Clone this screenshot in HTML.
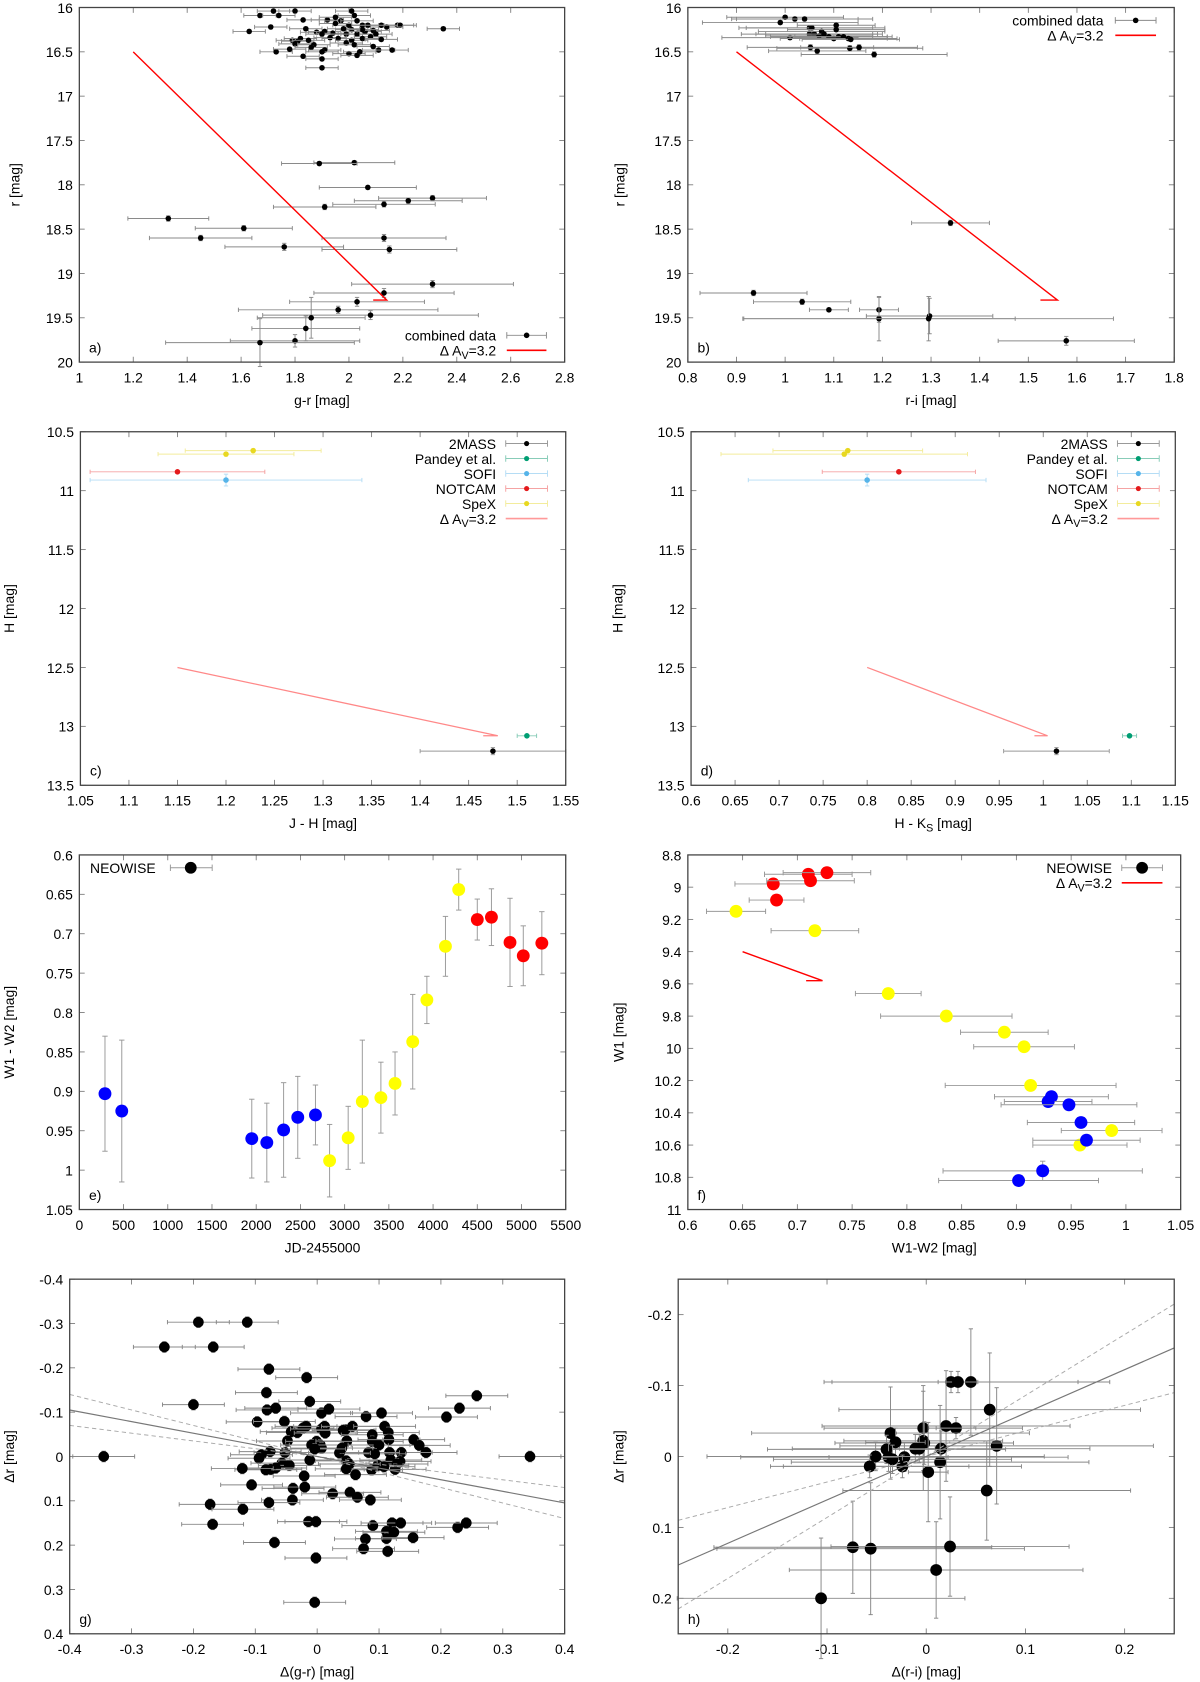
<!DOCTYPE html>
<html><head><meta charset="utf-8"><title>Photometric diagrams</title>
<style>
html,body{margin:0;padding:0;background:#fff;}
svg{display:block;font-family:"Liberation Sans",sans-serif;}
</style></head>
<body>
<svg id="fig" width="1200" height="1682" viewBox="0 0 1120 1570" xmlns="http://www.w3.org/2000/svg"></svg>
<script>
// ---------- DATA ----------
const aTopX=[1.72,1.80,1.67,1.74,2.01,2.02,1.71,1.63,2.35,2.18,2.19,2.14,2.12,1.83,1.92,1.95,1.97,2.03,2.07,2.05,1.84,1.88,1.91,1.94,1.99,2.0,2.01,2.03,2.06,2.09,2.1,2.08,1.79,1.81,1.82,1.85,1.90,1.93,1.96,2.01,2.05,1.80,1.87,1.99,2.02,2.09,2.11,2.16,1.73,1.78,1.86,1.91,1.9,2.0,2.04,2.03,1.83,1.9,1.9,2.05,1.98,2.12,1.95];
const aTopY=[16.04,16.04,16.09,16.09,16.04,16.09,16.22,16.27,16.24,16.2,16.2,16.22,16.2,16.14,16.14,16.11,16.15,16.15,16.2,16.2,16.24,16.28,16.27,16.29,16.3,16.2,16.25,16.3,16.27,16.26,16.3,16.33,16.37,16.38,16.35,16.37,16.3,16.34,16.35,16.37,16.35,16.41,16.42,16.4,16.42,16.44,16.48,16.48,16.5,16.47,16.45,16.48,16.5,16.52,16.5,16.54,16.55,16.58,16.68,16.25,16.24,16.36,16.18];
const aTopXerr=0.06, aTopYerr=0.02;
const aLowX=[2.02,1.89,2.07,2.31,2.22,2.13,1.91,1.33,1.61,1.45,2.13,1.76,2.15,2.31,2.13,2.03,1.96,2.08,1.86,1.84,1.80,1.67];
const aLowY=[17.75,17.76,18.03,18.15,18.18,18.22,18.25,18.38,18.49,18.6,18.6,18.7,18.73,19.12,19.22,19.32,19.41,19.47,19.5,19.62,19.76,19.78];
const aLowXe=[0.15,0.14,0.18,0.2,0.2,0.19,0.19,0.15,0.18,0.19,0.23,0.22,0.25,0.3,0.26,0.25,0.37,0.4,0.2,0.2,0.24,0.35];
const aLowYe=[0.02,0.02,0.02,0.03,0.03,0.03,0.03,0.03,0.03,0.03,0.04,0.04,0.04,0.04,0.05,0.05,0.04,0.05,0.23,0.14,0.07,0.27];
const aVec=[[1.2,16.5],[2.14,19.3],[2.09,19.3]];
const bX=[0.99,1.0,1.02,1.04,1.05,1.055,1.05,1.01,1.06,1.07,1.075,1.08,1.09,1.10,1.105,1.105,1.11,1.12,1.13,1.135,1.052,1.066,1.133,1.152,1.183,1.34,0.935,1.035,1.09,1.193,1.193,1.297,1.295,1.578];
const bY=[16.17,16.11,16.13,16.13,16.23,16.23,16.3,16.34,16.3,16.32,16.27,16.3,16.33,16.35,16.2,16.25,16.33,16.33,16.35,16.36,16.45,16.49,16.46,16.45,16.53,18.43,19.22,19.32,19.41,19.41,19.51,19.48,19.51,19.76];
const bXe=[0.16,0.12,0.13,0.14,0.13,0.15,0.14,0.14,0.12,0.11,0.13,0.12,0.12,0.11,0.08,0.1,0.1,0.1,0.1,0.1,0.13,0.1,0.15,0.12,0.15,0.08,0.11,0.1,0.04,0.04,0.28,0.13,0.38,0.14];
const bYe=[0.02,0.02,0.02,0.02,0.02,0.02,0.02,0.02,0.02,0.02,0.02,0.02,0.02,0.02,0.02,0.02,0.02,0.02,0.02,0.02,0.03,0.03,0.03,0.03,0.03,0.03,0.03,0.03,0.02,0.14,0.25,0.2,0.25,0.05];
const bVec=[[0.9,16.5],[1.56,19.3],[1.525,19.3]];
const srcNames=["2MASS","Pandey et al.","SOFI","NOTCAM","SpeX"];
const cX=[1.475,1.51,1.2,1.15,1.228,1.2];
const cY=[13.21,13.08,10.91,10.84,10.66,10.69];
const cXe=[0.075,0.01,0.14,0.09,0.07,0.07];
const cYe=[0.03,0.01,0.05,0.01,0.01,0.01];
const cVec=[[1.15,12.5],[1.48,13.08],[1.465,13.08]];
const dX=[1.015,1.098,0.8,0.836,0.778,0.774];
const dY=[13.21,13.08,10.91,10.84,10.66,10.69];
const dXe=[0.06,0.008,0.135,0.087,0.085,0.14];
const dYe=[0.03,0.01,0.05,0.01,0.01,0.01];
const dVec=[[0.8,12.5],[1.005,13.08],[0.99,13.08]];
const eJD=[290,480,1950,2120,2310,2470,2670,2830,3040,3200,3410,3570,3770,3930,4140,4290,4500,4660,4870,5020,5230];
const eC=[0.903,0.925,0.96,0.965,0.949,0.933,0.93,0.988,0.959,0.913,0.908,0.89,0.837,0.784,0.716,0.644,0.682,0.679,0.711,0.728,0.712];
const eCe=[0.073,0.09,0.05,0.05,0.06,0.052,0.038,0.046,0.04,0.078,0.045,0.04,0.06,0.03,0.038,0.026,0.026,0.036,0.056,0.038,0.04];
const eGroup=["b","b","b","b","b","b","b","y","y","y","y","y","y","y","y","y","r","r","r","r","r"];
const fC=[0.71,0.727,0.678,0.712,0.681,0.644,0.716,0.783,0.836,0.889,0.907,0.913,0.987,0.958,0.932,0.929,0.948,0.959,0.964,0.924,0.902];
const fW1=[8.92,8.91,8.98,8.96,9.08,9.15,9.27,9.66,9.8,9.9,9.99,10.23,10.51,10.6,10.3,10.33,10.35,10.46,10.57,10.76,10.82];
const fCe=[0.04,0.04,0.035,0.04,0.025,0.027,0.04,0.03,0.06,0.04,0.046,0.078,0.046,0.043,0.052,0.04,0.062,0.049,0.049,0.091,0.073];
const fW1e=[0.01,0.01,0.01,0.01,0.01,0.01,0.01,0.01,0.02,0.01,0.01,0.02,0.01,0.01,0.01,0.01,0.01,0.01,0.01,0.06,0.01];
const fGroup=["r","r","r","r","r","y","y","y","y","y","y","y","y","y","b","b","b","b","b","b","b"];
const fVec=[[0.65,9.4],[0.723,9.58],[0.708,9.58]];
const gX=[-0.192,-0.113,-0.247,-0.168,-0.078,-0.017,-0.082,-0.2,-0.012,0.258,0.23,0.209,-0.081,-0.067,-0.097,-0.053,0.007,0.019,0.079,0.104,-0.345,0.344,
-0.032,-0.023,-0.018,-0.042,0.007,0.012,0.013,0.045,0.057,0.042,0.109,0.115,-0.048,-0.001,0.005,0.007,-0.009,0.048,0.089,0.089,0.1,0.116,0.156,0.165,0.176,0.117,0.119,0.136,0.134,0.129,0.126,0.088,0.098,0.108,0.083,0.093,0.036,0.04,0.047,0.052,0.047,0.062,-0.052,-0.076,-0.09,-0.094,-0.057,-0.045,-0.067,-0.075,-0.083,-0.121,-0.012,-0.004,-0.021,-0.106,-0.039,-0.02,0.025,0.053,0.065,0.086,-0.04,-0.078,-0.173,-0.12,-0.169,-0.014,-0.002,0.09,0.121,0.135,0.112,0.124,0.112,0.078,0.155,0.227,0.241,0.075,0.114,-0.069,-0.002,-0.004];
const gY=[-0.303,-0.303,-0.247,-0.247,-0.197,-0.178,-0.144,-0.117,-0.124,-0.137,-0.109,-0.089,-0.105,-0.109,-0.078,-0.079,-0.098,-0.107,-0.09,-0.098,0,0,
-0.054,-0.064,-0.068,-0.056,-0.062,-0.068,-0.053,-0.06,-0.068,-0.059,-0.068,-0.054,-0.035,-0.034,-0.026,-0.019,-0.026,-0.035,-0.049,-0.034,-0.026,-0.038,-0.038,-0.025,-0.009,-0.009,0.008,-0.009,0.011,0.017,0.029,0.03,0.02,0.023,-0.009,-0.006,-0.008,-0.019,0.01,0.017,0.028,0.041,-0.009,-0.011,-0.004,0.004,0.015,0.02,0.026,0.029,0.03,0.027,0.008,-0.017,0.044,0.064,0.072,0.069,0.084,0.081,0.092,0.098,0.098,0.104,0.108,0.119,0.153,0.147,0.147,0.156,0.15,0.15,0.169,0.171,0.185,0.186,0.183,0.16,0.15,0.208,0.214,0.194,0.229,0.329];
const gXerr=0.05, gYerr=0.012;
const gFit=[[-0.4,-0.105],[0.4,0.105]];
const gConfA=[[-0.4,-0.14],[0.4,0.14]];
const gConfB=[[-0.4,-0.07],[0.4,0.07]];
const hX=[-0.106,-0.074,-0.056,0.024,0.01,0.061,0.071,0.064,0.045,0.025,0.032,0.02,0.03,-0.003,-0.003,-0.002,-0.011,-0.007,0.015,0.014,0.002,-0.036,-0.031,-0.04,-0.038,-0.034,-0.022,-0.024,-0.051,-0.057];
const hY=[0.2,0.128,0.13,0.127,0.16,0.048,-0.015,-0.066,-0.105,-0.105,-0.105,-0.043,-0.04,-0.04,-0.022,-0.019,-0.011,-0.011,-0.011,0.008,0.022,-0.033,-0.02,-0.01,0.001,0.004,0.001,0.014,0,0.014];
const hXe=[0.145,0.14,0.155,0.12,0.148,0.145,0.158,0.152,0.14,0.128,0.02,0.125,0.02,0.1,0.08,0.09,0.02,0.02,0.15,0.15,0.02,0.14,0.03,0.12,0.06,0.12,0.165,0.12,0.17,0.1];
const hYe=[0.085,0.065,0.093,0.07,0.068,0.07,0.082,0.08,0.075,0.015,0.015,0.078,0.015,0.06,0.07,0.03,0.02,0.02,0.025,0.08,0.07,0.065,0.02,0.02,0.02,0.02,0.02,0.016,0.02,0.016];
const hFit=[[-0.25,0.153],[0.25,-0.153]];
const hConfA=[[-0.25,0.09],[0.25,-0.09]];
const hConfB=[[-0.25,0.215],[0.25,-0.215]];

// ---------- DRAWING ----------
const NS="http://www.w3.org/2000/svg";
const svg=document.getElementById('fig');
function mk(tag,attrs,parent){const e=document.createElementNS(NS,tag);for(const k in attrs)e.setAttribute(k,attrs[k]);(parent||svg).appendChild(e);return e;}
function rng(a,b,s){const r=[];for(let v=a;v<=b+s*1e-6;v+=s)r.push(+v.toFixed(4));return r;}

function makePanel(c){
  const g=mk('g',{});
  
  
  const sx=v=>c.L+(v-c.x0)/(c.x1-c.x0)*(c.R-c.L);
  const sy=v=>c.T+(v-c.y0)/(c.y1-c.y0)*(c.B-c.T);
  const ax=mk('g',{},g);
  
  
  c.xt.forEach(v=>{const x=sx(v);
    mk('line',{x1:x,y1:c.B,x2:x,y2:c.B-5,stroke:'#777','stroke-width':0.8},ax);
    mk('line',{x1:x,y1:c.T,x2:x,y2:c.T+5,stroke:'#777','stroke-width':0.8},ax);
    const t=mk('text',{x:x,y:c.B+19,'font-size':13,'text-anchor':'middle'},ax);
    
    
    t.textContent=String(v);});
  c.yt.forEach(v=>{const y=sy(v);
    mk('line',{x1:c.L,y1:y,x2:c.L+5,y2:y,stroke:'#777','stroke-width':0.8},ax);
    mk('line',{x1:c.R,y1:y,x2:c.R-5,y2:y,stroke:'#777','stroke-width':0.8},ax);
    const t=mk('text',{x:c.L-6,y:y+5,'font-size':13,'text-anchor':'end'},ax);
    
    
    t.textContent=String(v);});
  const xt=mk('text',{x:(c.L+c.R)/2,y:c.B+40,'font-size':13,'text-anchor':'middle'},ax);
  
  
  xt.innerHTML=c.xl;
  const yt=mk('text',{x:0,y:0,'font-size':13,'text-anchor':'middle',transform:`translate(${c.yx},${(c.T+c.B)/2}) rotate(-90)`},ax);
  
  
  yt.innerHTML=c.yl;
  const pl=mk('text',{x:c.L+9,y:c.B-9,'font-size':13},ax);
  
  
  pl.textContent=c.id+')';
  return {g,sx,sy,c};
}
function frame(p){const c=p.c;const r=mk('rect',{x:c.L,y:c.T,width:c.R-c.L,height:c.B-c.T,fill:'none',stroke:'#444','stroke-width':1.2},p.g);
  
  }
function errPoint(p,x,y,xe,ye,col,ecol,r,cap){
  const X=p.sx(x),Y=p.sy(y);const g=mk('g',{},p.g);
  
  
  const x1=p.sx(x-xe),x2=p.sx(x+xe),y1=p.sy(y-ye),y2=p.sy(y+ye);
  const st={stroke:ecol,'stroke-width':0.9};
  mk('line',Object.assign({x1:x1,y1:Y,x2:x2,y2:Y},st),g);
  mk('line',Object.assign({x1:x1,y1:Y-cap,x2:x1,y2:Y+cap},st),g);
  mk('line',Object.assign({x1:x2,y1:Y-cap,x2:x2,y2:Y+cap},st),g);
  if(Math.abs(Y-y1)>0.5){mk('line',Object.assign({x1:X,y1:y1,x2:X,y2:y2},st),g);
    mk('line',Object.assign({x1:X-cap,y1:y1,x2:X+cap,y2:y1},st),g);
    mk('line',Object.assign({x1:X-cap,y1:y2,x2:X+cap,y2:y2},st),g);}
  mk('circle',{cx:X,cy:Y,r:r,fill:col},g);
}
function poly(p,pts,col,w,dash,name){
  const d=pts.map((q,i)=>(i?'L':'M')+p.sx(q[0]).toFixed(1)+','+p.sy(q[1]).toFixed(1)).join(' ');
  const e=mk('path',{d:d,fill:'none',stroke:col,'stroke-width':w},p.g);
  if(dash)e.setAttribute('stroke-dasharray',dash);
  
  
}
function legendEntry(parent,tx,y,label,x1,x2,kind,col,ecol,r){
  const g=mk('g',{},parent);
  
  
  const t=mk('text',{x:tx,y:y+5,'font-size':13,'text-anchor':'end'},g);t.innerHTML=label;
  if(kind==='line'){mk('line',{x1:x1,y1:y,x2:x2,y2:y,stroke:col,'stroke-width':1.5},g);}
  else{mk('line',{x1:x1,y1:y,x2:x2,y2:y,stroke:ecol,'stroke-width':0.9},g);
    mk('line',{x1:x1,y1:y-3,x2:x1,y2:y+3,stroke:ecol,'stroke-width':0.9},g);
    mk('line',{x1:x2,y1:y-3,x2:x2,y2:y+3,stroke:ecol,'stroke-width':0.9},g);
    mk('circle',{cx:(x1+x2)/2,cy:y,r:r,fill:col},g);}
}
const AV='&#916; A<tspan font-size="10" dy="3">V</tspan><tspan dy="-3">=3.2</tspan>';
const GREY='#8a8a8a';

(function(){const p=makePanel({id:'a',L:74,R:527,T:7,B:338,x0:1,x1:2.8,y0:16,y1:20,xt:rng(1,2.8,0.2),yt:rng(16,20,0.5),xl:'g-r [mag]',yl:'r [mag]',yx:18});
 aTopX.forEach((x,i)=>errPoint(p,x,aTopY[i],aTopXerr,aTopYerr,'#000',GREY,2.6,2));
 aLowX.forEach((x,i)=>errPoint(p,x,aLowY[i],aLowXe[i],aLowYe[i],'#000',GREY,2.6,2));
 poly(p,aVec,'#f00',1.3,null,'extinction-vector');
 legendEntry(p.g,463,313,'combined data',473,510,'pt','#000',GREY,2.6);
 legendEntry(p.g,463,327,AV,473,510,'line','#f00');
 frame(p);})();
(function(){const p=makePanel({id:'b',L:642,R:1096,T:7,B:338,x0:0.8,x1:1.8,y0:16,y1:20,xt:rng(0.8,1.8,0.1),yt:rng(16,20,0.5),xl:'r-i [mag]',yl:'r [mag]',yx:583});
 bX.forEach((x,i)=>errPoint(p,x,bY[i],bXe[i],bYe[i],'#000',GREY,2.6,2));
 poly(p,bVec,'#f00',1.3,null,'extinction-vector');
 legendEntry(p.g,1030,19,'combined data',1041,1079,'pt','#000',GREY,2.6);
 legendEntry(p.g,1030,33,AV,1041,1079,'line','#f00');
 frame(p);})();
const srcCol=['#000','#009e73','#56b4e9','#e41a1c','#e8d820','#e8d820'];
const srcErr=['#999','#88ccb8','#b5ddf5','#f5a3a3','#f3ec9c','#f3ec9c'];
function irPanel(id,L,R,x0,x1,xt,X,Y,Xe,Ye,V,xl,yx,tx,s1,s2){
 const p=makePanel({id:id,L:L,R:R,T:403,B:733,x0:x0,x1:x1,y0:10.5,y1:13.5,xt:xt,yt:rng(10.5,13.5,0.5),xl:xl,yl:'H [mag]',yx:yx});
 X.forEach((x,i)=>errPoint(p,x,Y[i],Xe[i],Ye[i],srcCol[i],srcErr[i],2.6,2));
 poly(p,V,'#f88',1.2,null,'extinction-vector');
 srcNames.forEach((n,i)=>legendEntry(p.g,tx,414+14*i,n,s1,s2,'pt',srcCol[i],srcErr[i],2.4));
 legendEntry(p.g,tx,414+14*5,AV,s1,s2,'line','#f99');
 frame(p);}
irPanel('c',75,528,1.05,1.55,rng(1.05,1.55,0.05),cX,cY,cXe,cYe,cVec,'J - H [mag]',13,463,472,511);
irPanel('d',645,1097,0.6,1.15,rng(0.6,1.15,0.05),dX,dY,dXe,dYe,dVec,'H - K<tspan font-size="10" dy="3">S</tspan><tspan dy="-3"> [mag]</tspan>',581,1034,1043,1082);
const gcol={b:'#0000ff',y:'#ffff00',r:'#ff0000'};
(function(){const p=makePanel({id:'e',L:74,R:528,T:798,B:1129,x0:0,x1:5500,y0:0.6,y1:1.05,xt:rng(0,5500,500),yt:rng(0.6,1.05,0.05),xl:'JD-2455000',yl:'W1 - W2 [mag]',yx:13});
 eJD.forEach((x,i)=>errPoint(p,x,eC[i],0,eCe[i],gcol[eGroup[i]],'#999',6,2.5));
 const g=mk('g',{},p.g);
 
 
 const t=mk('text',{x:84,y:815,'font-size':13},g);t.textContent='NEOWISE';
 mk('line',{x1:159,y1:810,x2:198,y2:810,stroke:'#999','stroke-width':0.9},g);
 mk('line',{x1:159,y1:807,x2:159,y2:813,stroke:'#999','stroke-width':0.9},g);
 mk('line',{x1:198,y1:807,x2:198,y2:813,stroke:'#999','stroke-width':0.9},g);
 mk('circle',{cx:178,cy:810,r:5.5,fill:'#000'},g);
 frame(p);})();
(function(){const p=makePanel({id:'f',L:642,R:1102,T:798,B:1129,x0:0.6,x1:1.05,y0:8.8,y1:11,xt:rng(0.6,1.05,0.05),yt:rng(8.8,11,0.2),xl:'W1-W2 [mag]',yl:'W1 [mag]',yx:582});
 fC.forEach((x,i)=>errPoint(p,x,fW1[i],fCe[i],fW1e[i],gcol[fGroup[i]],'#999',6,2.5));
 poly(p,fVec,'#f00',1.3,null,'extinction-vector');
 legendEntry(p.g,1038,810,'NEOWISE',1047,1085,'pt','#000','#999',5.5);
 legendEntry(p.g,1038,824,AV,1047,1085,'line','#f00');
 frame(p);})();
(function(){const p=makePanel({id:'g',L:65,R:527,T:1194,B:1525,x0:-0.4,x1:0.4,y0:-0.4,y1:0.4,xt:rng(-0.4,0.4,0.1),yt:rng(-0.4,0.4,0.1),xl:'&#916;(g-r) [mag]',yl:'&#916;r [mag]',yx:13});
 gX.forEach((x,i)=>errPoint(p,x,gY[i],gXerr,gYerr,'#000','#888',5,2));
 poly(p,gConfA,'#aaa',0.9,'4,3','confidence-upper');
 poly(p,gConfB,'#aaa',0.9,'4,3','confidence-lower');
 poly(p,gFit,'#777',1.1,null,'fit-line');
 frame(p);})();
(function(){const p=makePanel({id:'h',L:633,R:1096,T:1194,B:1525,x0:-0.25,x1:0.25,y0:-0.25,y1:0.25,xt:rng(-0.2,0.2,0.1),yt:rng(-0.2,0.2,0.1),xl:'&#916;(r-i) [mag]',yl:'&#916;r [mag]',yx:582});
 hX.forEach((x,i)=>errPoint(p,x,hY[i],hXe[i],hYe[i],'#000','#888',5.5,2));
 poly(p,hConfA,'#aaa',0.9,'4,3','confidence-upper');
 poly(p,hConfB,'#aaa',0.9,'4,3','confidence-lower');
 poly(p,hFit,'#777',1.1,null,'fit-line');
 frame(p);})();
</script>
</body></html>
